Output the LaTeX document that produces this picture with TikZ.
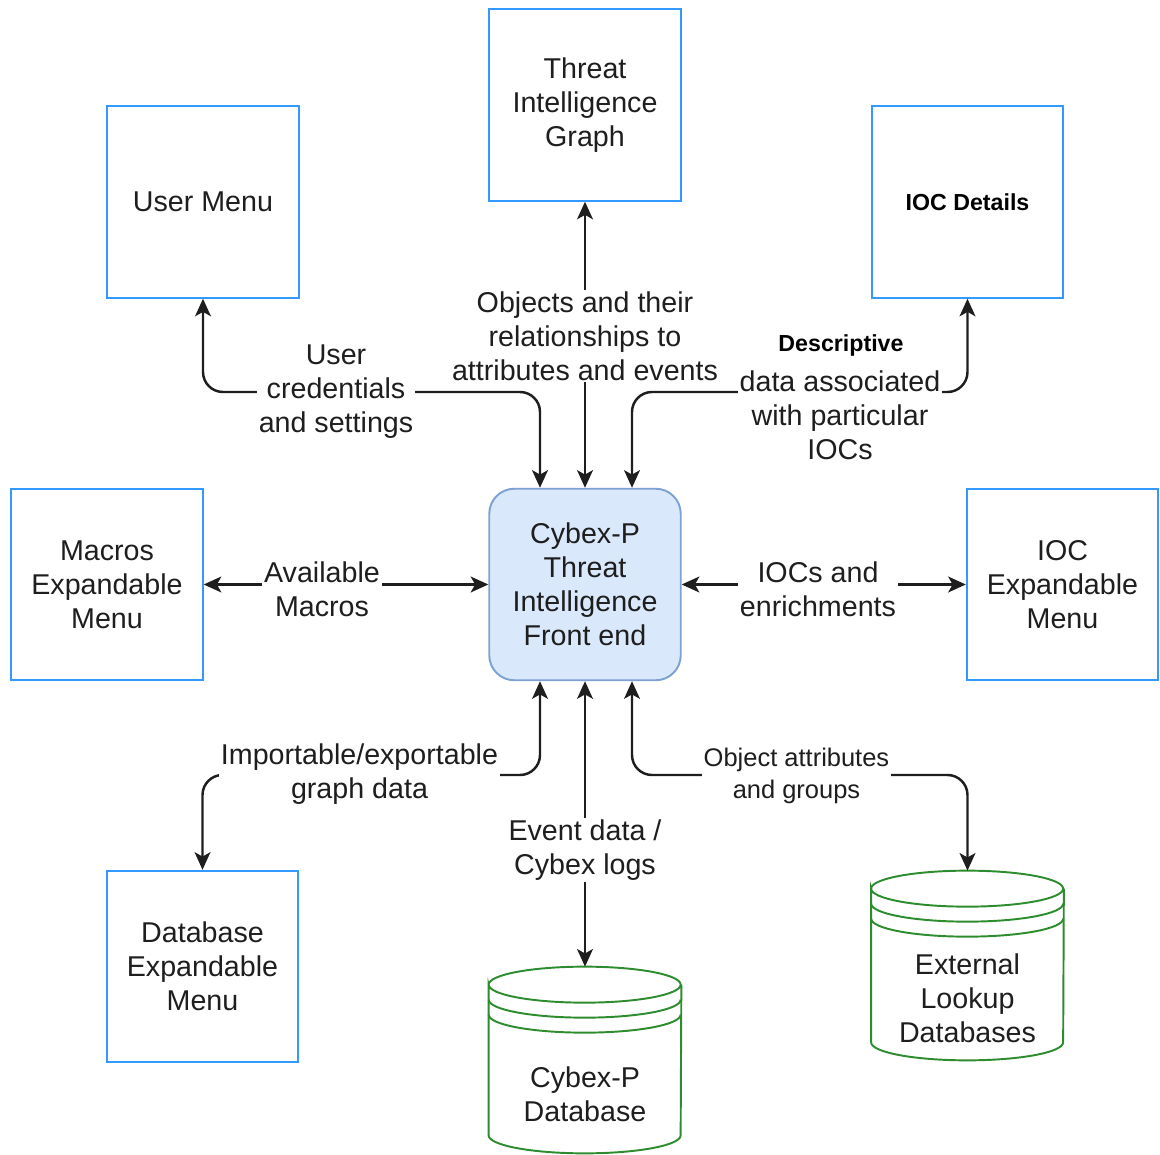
\documentclass[tikz,border=0pt]{standalone}
\usepackage{fontspec}
\setmainfont{Liberation Sans}
\usetikzlibrary{arrows.meta,calc}
\definecolor{boxblue}{RGB}{51,153,255}
\definecolor{feblue}{HTML}{DAE8FC}
\definecolor{feedge}{HTML}{7EA1D3}
\definecolor{dbgreen}{RGB}{45,140,45}
\definecolor{ink}{RGB}{30,30,30}
\newcommand{\dbdrum}[1]{%
  \draw[drumline] ([yshift=-0.36cm]#1.north west)
    arc[start angle=180,end angle=-180,x radius=1.92cm,y radius=0.36cm]
    -- ([yshift=0.36cm]#1.south west)
    arc[start angle=180,end angle=360,x radius=1.92cm,y radius=0.36cm]
    -- ([yshift=-0.36cm]#1.north east);
  \draw[drumline] ([yshift=-0.66cm]#1.north west)
    arc[start angle=180,end angle=360,x radius=1.92cm,y radius=0.36cm];
  \draw[drumline] ([yshift=-0.96cm]#1.north west)
    arc[start angle=180,end angle=360,x radius=1.92cm,y radius=0.36cm];
}
\tikzset{
  tip/.tip={Stealth[length=10pt,width=9pt,inset=2.5pt]},
  box/.style={draw=boxblue,line width=1.1pt,minimum width=3.83cm,minimum height=3.83cm,
    align=center,text=ink,font=\fontsize{16.3}{19.3}\selectfont},
  frontend/.style={box,draw=feedge,fill=feblue,rounded corners=0.5cm},
  drum/.style={minimum width=3.84cm,inner sep=0pt},
  drumline/.style={draw=dbgreen,line width=1.1pt},
  drumtext/.style={align=center,text=ink,font=\fontsize{16.3}{19.3}\selectfont},
  flow/.style={line width=1.4pt,draw=ink,rounded corners=0.4cm,tip-tip},
  lbl/.style={fill=white,inner sep=1pt,align=center,text=ink,font=\fontsize{16.3}{19.3}\selectfont},
}
\begin{document}
\begin{tikzpicture}
\useasboundingbox (0,0) rectangle (23.2,-23.1);
\node[box] (tig) at (11.7,-2.1) {Threat\\Intelligence\\Graph};
\node[box] (user) at (4.06,-4.04) {User Menu};
\node[box,font=\fontsize{13.2}{16}\selectfont\bfseries,text=black] (iocd) at (19.35,-4.04) {IOC Details};
\node[box] (macros) at (2.14,-11.69) {Macros\\Expandable\\Menu};
\node[frontend] (front) at (11.7,-11.69) {Cybex-P\\Threat\\Intelligence\\Front end};
\node[box] (iocx) at (21.25,-11.69) {IOC\\Expandable\\Menu};
\node[box] (dbx) at (4.05,-19.33) {Database\\Expandable\\Menu};
\node[drum,minimum height=3.72cm] (cydb) at (11.7,-21.2) {};
\node[drum,minimum height=3.78cm] (extdb) at (19.35,-19.31) {};
\dbdrum{cydb}
\dbdrum{extdb}
\node[drumtext] (cydbtext) at ([yshift=-0.68cm]cydb.center) {Cybex-P\\Database};
\node[drumtext] (extdbtext) at ([yshift=-0.65cm]extdb.center) {External\\Lookup\\Databases};
\coordinate (uplev) at (0,-7.84);
\coordinate (dnlev) at (0,-15.5);
\coordinate (fn1) at ([xshift=-0.9cm]front.north);
\coordinate (fn3) at ([xshift=0.94cm]front.north);
\coordinate (fs1) at ([xshift=-0.9cm]front.south);
\coordinate (fs3) at ([xshift=0.94cm]front.south);
\begin{scope}
  \draw[flow] (fn1) -- (fn1 |- uplev) -- (user.south |- uplev) -- (user.south);
  \draw[flow] (front.north) -- (tig.south);
  \draw[flow] (fn3) -- (fn3 |- uplev) -- (iocd.south |- uplev) -- (iocd.south);
  \draw[flow] (macros.east) -- (front.west);
  \draw[flow] (front.east) -- (iocx.west);
  \draw[flow] (fs1) -- (fs1 |- dnlev) -- (dbx.north |- dnlev) -- (dbx.north);
  \draw[flow] (front.south) -- (cydb.north);
  \draw[flow] (fs3) -- (fs3 |- dnlev) -- (extdb.north |- dnlev) -- (extdb.north);
\end{scope}
\node[lbl] (credlbl) at (6.72,-7.84) {User\\credentials\\and settings};
\node[lbl] (objlbl) at (11.7,-6.72) {Objects and their\\relationships to\\attributes and events};
\node[lbl] (ioclbl) at (16.8,-8.3) {data associated\\with particular\\IOCs};
\node[font=\fontsize{13.2}{16}\selectfont\bfseries] (desclbl) at (16.82,-6.92) {Descriptive};
\node[lbl] (maclbl) at (6.44,-11.79) {Available\\Macros};
\node[lbl] (enrlbl) at (16.36,-11.79) {IOCs and\\enrichments};
\node[lbl] (implbl) at (7.19,-15.48) {Importable/exportable\\graph data};
\node[lbl] (evtlbl) at (11.7,-17.0) {Event data /\\Cybex logs};
\node[lbl,font=\fontsize{14.5}{18}\selectfont] (attlbl) at (15.93,-15.52) {Object attributes\\and groups};
\end{tikzpicture}
\end{document}
